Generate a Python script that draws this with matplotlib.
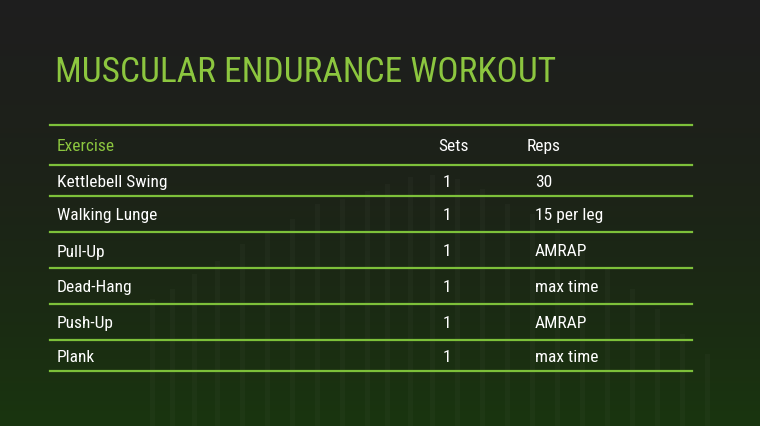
import numpy as np
import matplotlib
matplotlib.use("Agg")
import matplotlib.pyplot as plt

TITLE = "MUSCULAR ENDURANCE WORKOUT"
headers = ["Exercise", "Sets", "Reps"]
exercises = ["Kettlebell Swing", "Walking Lunge", "Pull-Up", "Dead-Hang", "Push-Up", "Plank"]
sets = ["1", "1", "1", "1", "1", "1"]
reps = ["30", "15 per leg", "AMRAP", "max time", "AMRAP", "max time"]

# faint decorative bars behind the table (top y in pixels)
bar_x = [150, 170, 192, 215, 240, 265, 290, 315, 340, 365, 385, 408, 430, 455, 480,
         505, 530, 555, 580, 605, 630, 655, 680, 705]
bar_top = [300, 290, 275, 262, 245, 232, 220, 205, 200, 192, 185, 178, 176, 180, 190,
           205, 215, 230, 250, 268, 290, 310, 335, 355]

GREEN = "#8cc63f"
LINE = "#7dc03a"
FONT = "Roboto Condensed"

fig = plt.figure(figsize=(7.6, 4.27), dpi=100)
ax = fig.add_axes([0, 0, 1, 1])
ax.set_xlim(0, 760)
ax.set_ylim(427, 0)
ax.axis("off")

# background: dark with green glow at bottom
h = np.linspace(0, 1, 200)[:, None]
r = 0.12 - 0.02 * h
g = 0.12 + 0.09 * h ** 2
b = 0.12 - 0.06 * h
bg = np.dstack([r, g, b]) * np.ones((1, 10, 1))
ax.imshow(np.clip(bg, 0, 1), extent=[0, 760, 427, 0], aspect="auto", zorder=0)

for x, top in zip(bar_x, bar_top):
    ax.add_patch(plt.Rectangle((x, top), 5, 427 - top, color="#ffffff", alpha=0.025, lw=0, zorder=1))

ax.text(55, 72, TITLE, color=GREEN, fontsize=25.5, family=FONT,
        va="center", ha="left", zorder=3)

lines_y = [126, 166, 197, 233, 269, 305, 341, 372]
for y in lines_y:
    ax.plot([50, 692], [y, y], color=LINE, lw=1.6, zorder=2)

ax.text(57, 147, headers[0], color=GREEN, fontsize=12.5, family=FONT, va="center")
ax.text(438, 147, headers[1], color="white", fontsize=12.5, family=FONT, va="center")
ax.text(527, 147, headers[2], color="white", fontsize=12.5, family=FONT, va="center")

row_y = [(lines_y[i + 1] + lines_y[i + 2]) / 2 + 1 for i in range(len(exercises))]
for y, e, s, rp in zip(row_y, exercises, sets, reps):
    ax.text(57, y, e, color="white", fontsize=12.5, family=FONT, va="center")
    ax.text(443, y, s, color="white", fontsize=12.5, family=FONT, va="center")
    ax.text(535, y, rp, color="white", fontsize=12.5, family=FONT, va="center")

fig.savefig("out.png", dpi=100)
